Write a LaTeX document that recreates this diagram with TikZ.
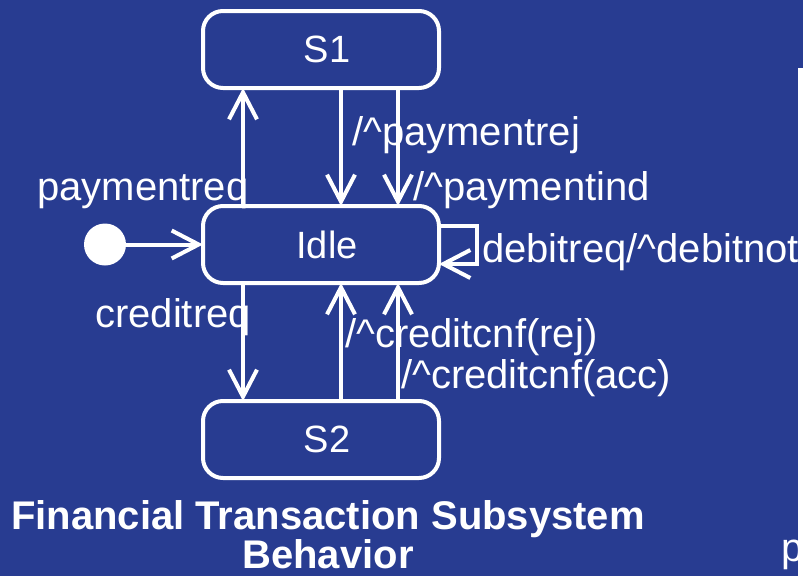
\documentclass[tikz,border=0pt]{standalone}
\usepackage{fontspec}
\setmainfont{Liberation Sans}
\usepackage{tikz}
\usetikzlibrary{arrows.meta, positioning}

\definecolor{bgblue}{RGB}{40,60,145}
\newcommand\lblfont{\fontsize{40}{44}\selectfont}
\newcommand\statefont{\fontsize{38}{44}\selectfont}
\newcommand\titlefont{\fontsize{40}{39}\selectfont\bfseries}

\begin{document}
\begin{tikzpicture}[
    x=1pt, y=-1pt,
    node distance=118pt,
    state/.style={rectangle, draw=white, line width=4pt, rounded corners=20pt, outer sep=0pt, minimum width=236pt, minimum height=77pt, text=white, font=\statefont},
    arrow/.style={-{Straight Barb[length=27pt, width=28pt]}, line width=4pt, white},
    lbl/.style={text=white, font=\lblfont, inner sep=0pt, anchor=base west}
]
\fill[bgblue] (0,0) rectangle (803,576);
\useasboundingbox (0,0) rectangle (803,576);

\node[state] (s1) at (321,49.5) {\hspace*{12pt}S1};
\node[state, below=of s1] (idle) {\hspace*{12pt}Idle};
\node[state, below=of idle] (s2) {\hspace*{12pt}S2};

\node[circle, fill=white, minimum size=42pt, inner sep=0pt] (init) at (105,244.5) {};
\draw[arrow] (init.east) -- (idle.west);

\draw[arrow] ([xshift=-78pt]idle.north) -- ([xshift=-78pt]s1.south);
\draw[arrow] ([xshift=20pt]s1.south) -- ([xshift=20pt]idle.north);
\draw[arrow] ([xshift=77pt]s1.south) -- ([xshift=77pt]idle.north);
\draw[arrow] ([xshift=-78pt]idle.south) -- ([xshift=-78pt]s2.north);
\draw[arrow] ([xshift=20pt]s2.north) -- ([xshift=20pt]idle.south);
\draw[arrow] ([xshift=77pt]s2.north) -- ([xshift=77pt]idle.south);
\draw[arrow] ([yshift=18.5pt]idle.east) -- ++(38,0) |- ([yshift=-19.5pt]idle.east);

\node[lbl] (payreq) at (37,200) {paymentreq};
\node[lbl] (payrej) at (352,145) {/\textasciicircum paymentrej};
\node[lbl] (payind) at (413,200) {/\textasciicircum paymentind};
\node[lbl] (debit) at (482,262) {debitreq/\textasciicircum debitnot};
\node[lbl] (credreq) at (95,327) {creditreq};
\node[lbl] (cnfrej) at (345,347) {/\textasciicircum creditcnf(rej)};
\node[lbl] (cnfacc) at (401,388) {/\textasciicircum creditcnf(acc)};

\node[text=white, font=\titlefont, align=center, inner sep=0pt] (title) at (328,535)
    {Financial Transaction Subsystem\\Behavior};

% edge of the next slide element
\fill[white] (798,68) rectangle (803,576);
\node[lbl] (cut) at (781,561) {p};

\end{tikzpicture}
\end{document}
